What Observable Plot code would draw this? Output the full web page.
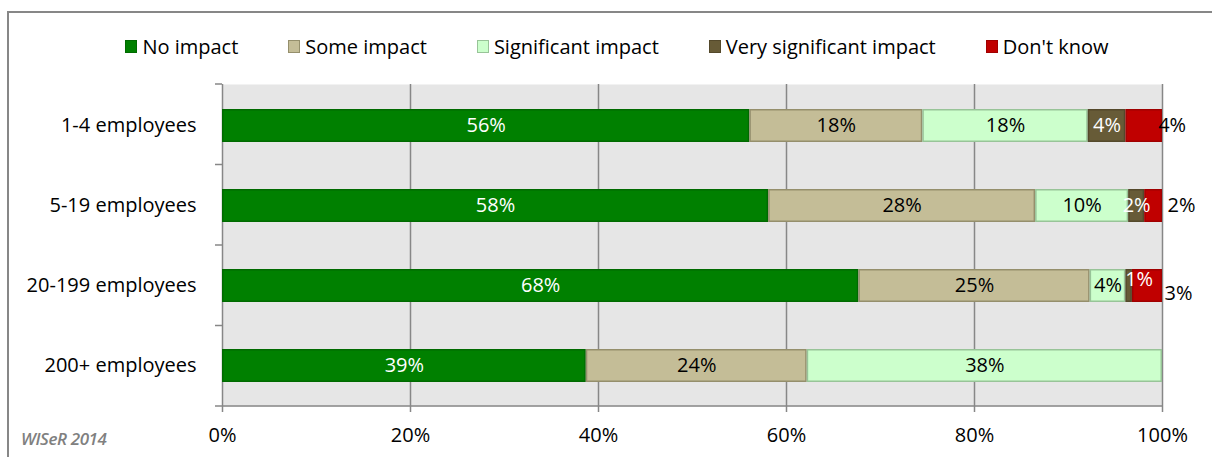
<!DOCTYPE html>
<html>
<head>
<meta charset="utf-8">
<script src="https://cdn.jsdelivr.net/npm/d3@7"></script>
<script src="https://cdn.jsdelivr.net/npm/@observablehq/plot@0.6"></script>
<style>
  html, body { margin: 0; padding: 0; background: #fff; }
  #wrap { position: relative; width: 1212px; height: 457px; overflow: hidden; font-family: "Open Sans", sans-serif; }
  #border { position: absolute; left: 7px; top: 11px; width: 1300px; height: 600px; border: 2px solid #878787; box-sizing: border-box; pointer-events: none; }
  #legend { height: 70px; display: flex; justify-content: center; align-items: flex-start; padding-top: 33px; padding-left: 22px; box-sizing: border-box; font-size: 20px; color: #000; }
  .item { display: flex; align-items: center; margin: 0 25px; }
  .sw { width: 10px; height: 11px; border: 1.5px solid; margin-right: 5px; }
  #credit { position: absolute; left: 21px; top: 427px; font-size: 17px; font-style: italic; font-weight: 600; color: #808080; letter-spacing: -0.4px; }
  svg { display: block; }
</style>
</head>
<body>
<div id="wrap">
  <div id="legend"></div>
  <div id="chart"></div>
  <div id="credit">WISeR 2014</div>
  <div id="border"></div>
</div>
<script>
const groups = ["1-4 employees", "5-19 employees", "20-199 employees", "200+ employees"];
const categories = ["No impact", "Some impact", "Significant impact", "Very significant impact", "Don't know"];
const noImpact        = [56.1, 58.1, 67.7, 38.7];
const someImpact      = [18.4, 28.4, 24.6, 23.5];
const significant     = [17.6,  9.9,  3.8, 37.8];
const verySignificant = [ 4.0,  1.7,  0.7,  0.0];
const dontKnow        = [ 3.9,  1.9,  3.2,  0.0];
const xTicks = [0, 20, 40, 60, 80, 100];

const fills   = ["#008000", "#c4bd97", "#ccffcc", "#675b37", "#c00000"];
const strokes = ["#006a00", "#958f6c", "#98c498", "#54492b", "#a00000"];
const textColors = ["#ffffff", "#000000", "#000000", "#ffffff", "#000000"];

const series = [noImpact, someImpact, significant, verySignificant, dontKnow];
const data = [];
groups.forEach((g, gi) => {
  categories.forEach((c, ci) => {
    data.push({group: g, gi, category: c, ci, value: series[ci][gi], label: Math.round(series[ci][gi]) + "%"});
  });
});

// legend
const legend = document.getElementById("legend");
categories.forEach((c, i) => {
  const it = document.createElement("div");
  it.className = "item";
  const sw = document.createElement("div");
  sw.className = "sw";
  sw.style.background = fills[i];
  sw.style.borderColor = strokes[i];
  const t = document.createElement("span");
  t.textContent = c;
  it.appendChild(sw); it.appendChild(t);
  legend.appendChild(it);
});

const stackOpts = {x: "value", y: "group", order: categories, z: "category"};
const FS = 20;

const bandMarks = (index, scales, values, dim) => {
  const g = d3.create("svg:g");
  const top = dim.marginTop, bottom = dim.height - dim.marginBottom;
  const left = dim.marginLeft, right = dim.width - dim.marginRight;
  const n = groups.length;
  for (let k = 0; k <= n; k++) {
    const y = top + (bottom - top) * k / n;
    g.append("line").attr("x1", left - 7).attr("x2", left).attr("y1", y).attr("y2", y)
      .attr("stroke", "#878787").attr("stroke-width", 1.5);
  }
  g.append("line").attr("x1", left).attr("x2", right).attr("y1", bottom).attr("y2", bottom)
    .attr("stroke", "#878787").attr("stroke-width", 1.5);
  return g.node();
};

const isMain = d => d.value > 0 && d.ci < 4 && !(d.ci === 3 && d.gi === 2);
const isSmallVS = d => d.ci === 3 && d.gi === 2;
const isDKa = d => d.ci === 4 && d.value > 0 && d.gi !== 2;
const isDKb = d => d.ci === 4 && d.gi === 2;

const plot = Plot.plot({
  width: 1212,
  height: 387,
  marginLeft: 222,
  marginRight: 50,
  marginTop: 14,
  marginBottom: 51,
  style: {fontFamily: "'Open Sans', sans-serif", fontSize: FS + "px", color: "#000", background: "transparent"},
  x: {domain: [0, 100], label: null},
  y: {domain: groups, paddingInner: 0.59, paddingOuter: 0.295, label: null},
  color: {domain: categories, range: fills},
  marks: [
    Plot.frame({fill: "#e6e6e6", stroke: null}),
    Plot.gridX(xTicks.filter(d => d > 0), {stroke: "#878787", strokeOpacity: 1, strokeWidth: 1.5}),
    Plot.axisX({ticks: xTicks, tickFormat: d => d + "%", tickSize: 6, tickPadding: 15, stroke: "#878787", strokeWidth: 1.5, fontSize: FS, fill: "#000"}),
    Plot.axisY({tickSize: 0, tickPadding: 26, fontSize: FS, fill: "#000"}),
    Plot.ruleX([0], {stroke: "#878787", strokeWidth: 1.5}),
    bandMarks,
    Plot.barX(data, Plot.stackX({...stackOpts, fill: "category", stroke: d => strokes[d.ci], strokeWidth: 1.5, inset: 0.75})),
    Plot.text(data, Plot.stackX({...stackOpts, text: d => isMain(d) ? d.label : null, fill: d => textColors[d.ci], fontSize: FS})),
    Plot.text(data, Plot.stackX({...stackOpts, text: d => isSmallVS(d) ? d.label : null, fill: "#fff", fontSize: FS, dx: 10, dy: -6})),
    Plot.text(data, Plot.stackX({...stackOpts, text: d => isDKa(d) ? d.label : null, fill: "#000", fontSize: FS, dx: 28})),
    Plot.text(data, Plot.stackX({...stackOpts, text: d => isDKb(d) ? d.label : null, fill: "#000", fontSize: FS, dx: 31, dy: 8}))
  ]
});
document.getElementById("chart").appendChild(plot);
</script>
</body>
</html>
